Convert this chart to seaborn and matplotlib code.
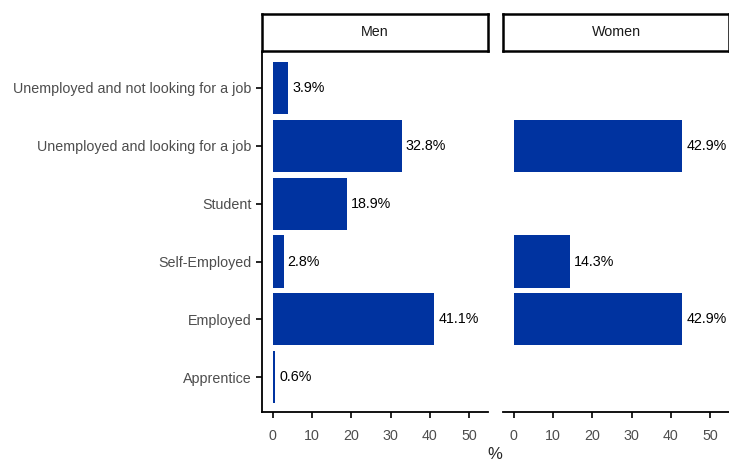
import pandas as pd
import numpy as np
import matplotlib.pyplot as plt
import seaborn as sns

# ==========================================
# Data
# ==========================================

categories = [
    "Unemployed and not looking for a job",
    "Unemployed and looking for a job",
    "Student",
    "Self-Employed",
    "Employed",
    "Apprentice",
]

men_values = [3.9, 32.8, 18.9, 2.8, 41.1, 0.6]

women_categories = ["Unemployed and looking for a job", "Self-Employed", "Employed"]
women_values = [42.9, 14.3, 42.9]

panels = ["Men", "Women"]
x_ticks = [0, 10, 20, 30, 40, 50]

bar_color = "#0033A0"

men_df = pd.DataFrame({"Status": categories, "Percent": men_values})
women_df = pd.DataFrame({"Status": women_categories, "Percent": women_values})

# ==========================================
# Figure
# ==========================================

sns.set_style("white")
plt.rcParams["font.family"] = ["Liberation Sans", "DejaVu Sans"]

fs = 10.3

fig = plt.figure(figsize=(7.29, 4.61), dpi=100)

W, H = 729, 461
def box(x0, y0, x1, y1):
    return [x0 / W, 1 - y1 / H, (x1 - x0) / W, (y1 - y0) / H]

ax_men = fig.add_axes(box(262, 52, 488, 412))
ax_women = fig.add_axes(box(503, 52, 729, 412))

for ax, df, name in zip([ax_men, ax_women], [men_df, women_df], panels):
    sns.barplot(
        data=df,
        x="Percent",
        y="Status",
        order=categories,
        color=bar_color,
        width=0.9,
        saturation=1,
        linewidth=0,
        ax=ax,
    )
    for status, val in zip(df["Status"], df["Percent"]):
        ax.text(
            val + 1.0,
            categories.index(status),
            f"{val}%",
            va="center",
            ha="left",
            fontsize=fs,
            color="black",
        )
    ax.set_xlim(-2.75, 54.8)
    ax.set_ylim(len(categories) - 0.4, -0.62)
    ax.set_xticks(x_ticks)
    ax.set_xlabel("")
    ax.set_ylabel("")
    for s in ["top", "right"]:
        ax.spines[s].set_visible(False)
    ax.spines["bottom"].set_linewidth(1.3)
    ax.spines["bottom"].set_color("black")
    ax.tick_params(axis="x", bottom=True, direction="out", length=4.5, width=1.2,
                   color="black", labelsize=fs, labelcolor="#4D4D4D", pad=8)

    # strip
    sx = ax.get_position()
    strip = fig.add_axes([sx.x0, 1 - 51 / H, sx.width, 37 / H])
    strip.set_xticks([])
    strip.set_yticks([])
    for s in strip.spines.values():
        s.set_linewidth(1.8)
        s.set_color("black")
    strip.text(0.5, 0.5, name, ha="center", va="center", fontsize=fs,
               color="#1A1A1A", transform=strip.transAxes)

ax_men.spines["left"].set_linewidth(1.3)
ax_men.spines["left"].set_color("black")
ax_men.tick_params(axis="y", left=True, direction="out", length=4.5, width=1.2,
                   color="black", labelsize=fs, labelcolor="#4D4D4D", pad=3)

ax_women.spines["left"].set_visible(False)
ax_women.set_yticks([])

fig.text(495 / W, 1 - 454 / H, "%", ha="center", va="center", fontsize=12)

plt.savefig("out.png", dpi=100)
